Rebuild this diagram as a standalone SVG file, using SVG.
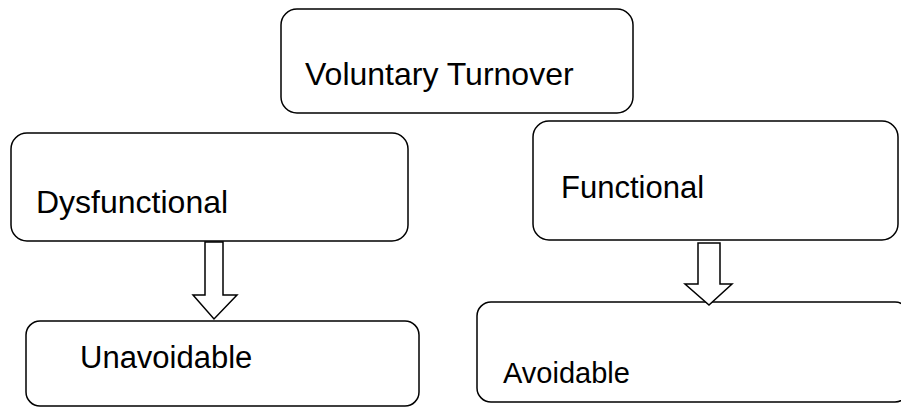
<svg xmlns="http://www.w3.org/2000/svg" width="901" height="408" viewBox="0 0 901 408">
<style>
.box{fill:#fff;stroke:#000;stroke-width:1.5}
.lbl{font-family:"Liberation Sans",Arial,sans-serif;font-size:31px;fill:#000}
.arr{fill:#fff;stroke:#000;stroke-width:1.5;stroke-linejoin:miter}
</style>
<rect width="901" height="408" fill="#fff"/>
<g id="voluntary">
<rect class="box" x="281" y="9" width="352" height="104" rx="16"/>
<text class="lbl" x="305" y="85" style="font-size:32px">Voluntary Turnover</text>
</g>
<g id="dysfunctional">
<rect class="box" x="11" y="133" width="397" height="108" rx="16"/>
<text class="lbl" x="36" y="213" style="font-size:32px">Dysfunctional</text>
</g>
<g id="functional">
<rect class="box" x="533" y="121" width="365" height="119" rx="16"/>
<text class="lbl" x="561" y="198">Functional</text>
</g>
<g id="unavoidable">
<rect class="box" x="26" y="321" width="393" height="85" rx="14"/>
<text class="lbl" x="80" y="368">Unavoidable</text>
</g>
<g id="avoidable">
<rect class="box" x="477" y="302" width="432" height="100" rx="14"/>
<text class="lbl" x="503" y="383" style="font-size:29px">Avoidable</text>
</g>
<g id="connectors">
<path class="arr" d="M205,242 H223 V295 H237 L214,319 L193,295 H205 Z"/>
<path class="arr" d="M698,243 H720 V284 H732 L709,305 L685,284 H698 Z"/>
</g>
</svg>
